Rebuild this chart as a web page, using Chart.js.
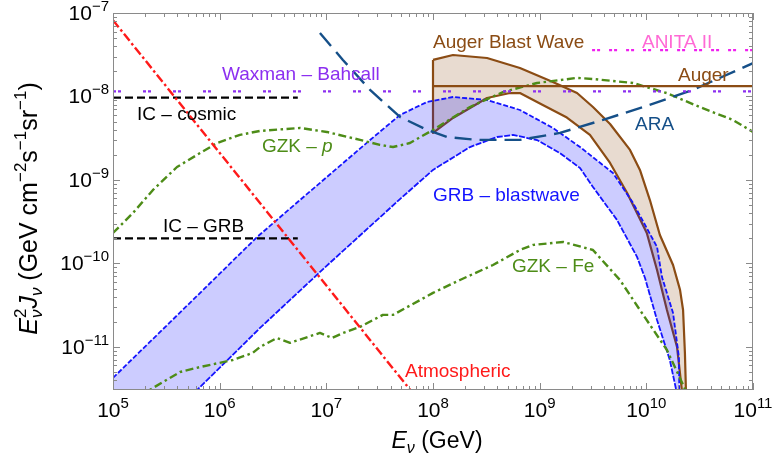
<!DOCTYPE html>
<html><head><meta charset="utf-8">
<script src="https://cdn.jsdelivr.net/npm/chart.js@4/dist/chart.umd.min.js"></script>
<style>html,body{margin:0;padding:0;background:#fff;}#wrap{width:774px;height:459px;}</style>
</head><body><div id="wrap"><canvas id="c" width="774" height="459"></canvas></div>
<script>
// ---------- data (E in GeV, flux E^2 J in GeV cm^-2 s^-1 sr^-1) ----------
const xTickExponents = [5, 6, 7, 8, 9, 10, 11];
const yTickExponents = [-7, -8, -9, -10, -11];

const atmosphericE = [1e5, 1e8];
const atmosphericJ = [8.2e-8, 1.4e-12];

const icCosmicE = [1e5, 5.4e6];
const icCosmicJ = [9.7e-9, 9.7e-9];
const icGrbE = [1e5, 5.4e6];
const icGrbJ = [2.0e-10, 2.0e-10];

const waxmanE = [1e5, 1e11];
const waxmanJ = [1.15e-8, 1.15e-8];
const anitaE = [3.1e9, 1e11];
const anitaJ = [3.6e-8, 3.6e-8];
const augerE = [1e8, 1e11];
const augerJ = [1.33e-8, 1.33e-8];

const araE = [8.71e6, 1.43e7, 2.57e7, 4.9e7, 8.79e7, 1.35e8, 2.57e8, 6.53e8, 1.55e9, 3.93e9, 9.33e9, 2.74e10, 1e11];
const araJ = [5.75e-8, 2.74e-8, 1.20e-8, 5.69e-9, 3.98e-9, 3.27e-9, 3.02e-9, 3.02e-9, 3.66e-9, 5.25e-9, 7.48e-9, 1.20e-8, 2.51e-8];

const gzkProtonE = [1e5, 1.54e5, 2.37e5, 3.98e5, 6.55e5, 9.44e5, 1.55e6, 2.37e6, 5.66e6, 1.01e7, 2.07e7, 3.18e7, 4.22e7, 6.08e7, 1e8, 2.22e8, 4.53e8, 9.44e8, 2.24e9, 3.16e9, 7.5e9, 1.55e10, 3.16e10, 6.46e10, 1e11];
const gzkProtonJ = [2.32e-10, 4.03e-10, 7.59e-10, 1.43e-9, 2.10e-9, 2.77e-9, 3.47e-9, 3.86e-9, 4.20e-9, 3.76e-9, 3.02e-9, 2.63e-9, 2.48e-9, 2.77e-9, 3.98e-9, 7.48e-9, 1.13e-8, 1.45e-8, 1.67e-8, 1.62e-8, 1.45e-8, 1.10e-8, 7.48e-9, 5.25e-9, 3.76e-9];

const gzkIronE = [1.78e5, 4.25e5, 6.55e5, 1.33e6, 2.05e6, 2.39e6, 3.44e6, 4.57e6, 8.71e6, 1.13e7, 1.43e7, 2.07e7, 3.39e7, 4.22e7, 1e8, 1.79e8, 3.65e8, 6.53e8, 8.71e8, 1.66e9, 3.16e9, 5.66e9, 8.71e9, 1.56e10, 2.5e10];
const gzkIronJ = [2.6e-12, 5.01e-12, 5.75e-12, 6.98e-12, 8.51e-12, 1.0e-11, 1.28e-11, 1.12e-11, 1.47e-11, 1.28e-11, 1.47e-11, 1.74e-11, 2.42e-11, 2.42e-11, 4.44e-11, 6.34e-11, 9.59e-11, 1.45e-10, 1.67e-10, 1.81e-10, 1.45e-10, 6.34e-11, 2.77e-11, 9.2e-12, 2.5e-12];

const grbUpperE = [1e5, 5.62e5, 2.24e6, 5.66e6, 2.57e7, 4.9e7, 8.79e7, 1.54e8, 3.21e8, 6.53e8, 1.33e9, 2.39e9, 4.87e9, 7.5e9, 1.26e10, 1.40e10, 1.78e10, 2.02e10, 2.04e10];
const grbUpperJ = [4.26e-12, 3.66e-11, 2.07e-10, 5.75e-10, 3.01e-9, 6.0e-9, 8.59e-9, 9.86e-9, 9.08e-9, 6.89e-9, 4.20e-9, 2.48e-9, 1.21e-9, 5.31e-10, 1.58e-10, 6.92e-11, 2.55e-11, 7.59e-12, 2.5e-12];
const grbLowerE = [5.25e5, 2.39e6, 4.57e6, 1e7, 4.9e7, 1e8, 2.22e8, 3.98e8, 5.62e8, 9.44e8, 1.55e9, 2.39e9, 3.16e9, 5.31e9, 8.18e9, 9.72e9, 1.26e10, 1.66e10, 1.97e10];
const grbLowerJ = [2.5e-12, 1.69e-11, 3.66e-11, 9.3e-11, 5.9e-10, 1.32e-9, 2.48e-9, 3.27e-9, 3.46e-9, 3.01e-9, 2.10e-9, 1.39e-9, 8.24e-10, 3.32e-10, 1.20e-10, 6.7e-11, 2.10e-11, 6.98e-12, 2.5e-12];

const augerBwUpperE = [1e8, 1.54e8, 3.21e8, 6.53e8, 1.33e9, 2.24e9, 3.16e9, 4.57e9, 7.03e9, 8.71e9, 1.08e10, 1.34e10, 1.78e10, 2.07e10, 2.21e10, 2.30e10, 2.36e10];
const augerBwUpperJ = [2.74e-8, 3.14e-8, 2.89e-8, 2.19e-8, 1.49e-8, 1.10e-8, 7.48e-9, 4.68e-9, 2.29e-9, 1.32e-9, 5.75e-10, 2.19e-10, 9.59e-11, 4.82e-11, 2.77e-11, 8.47e-12, 2.5e-12];
const augerBwLowerE = [1e8, 1.54e8, 3.21e8, 5.27e8, 6.53e8, 1.07e9, 1.80e9, 2.96e9, 4.57e9, 6.61e9, 1.01e10, 1.26e10, 1.56e10, 1.94e10, 2.19e10];
const augerBwLowerJ = [3.66e-9, 5.53e-9, 9.59e-9, 1.10e-8, 1.10e-8, 7.91e-9, 5.6e-9, 3.46e-9, 1.60e-9, 6.98e-10, 2.32e-10, 8.36e-11, 2.77e-11, 1.0e-11, 2.5e-12];

// ---------- helpers ----------
const pts = (E, J) => E.map((e, i) => ({x: e, y: J[i]}));
function bandShape(upE, upJ, loE, loJ, closeCorner) {
  const up = pts(upE, upJ), lo = pts(loE, loJ).reverse();
  const shape = up.concat(lo);
  if (closeCorner) shape.push({x: upE[0], y: loJ[0]});
  shape.push(up[0]);
  return shape;
}
const FONT = '"Liberation Sans", Arial, Helvetica, sans-serif';
function setFont(ctx, size, italic) { ctx.font = (italic ? 'italic ' : '') + size + 'px ' + FONT; }
function layoutRich(ctx, parts) {
  let cursor = 0, lastStart = 0; const items = [];
  for (const p of parts) {
    setFont(ctx, p.size, p.italic);
    const w = ctx.measureText(p.text).width;
    const start = p.stack ? lastStart : cursor;
    items.push(Object.assign({}, p, {x0: start, w: w}));
    if (!p.stack) lastStart = start;
    cursor = Math.max(cursor, start + w);
  }
  return {items, width: cursor};
}
function drawRich(ctx, parts, x, y, align, color) {
  const L = layoutRich(ctx, parts);
  const off = align === 'center' ? -L.width / 2 : (align === 'right' ? -L.width : 0);
  ctx.fillStyle = color; ctx.textBaseline = 'alphabetic'; ctx.textAlign = 'left';
  for (const it of L.items) { setFont(ctx, it.size, it.italic); ctx.fillText(it.text, x + off + it.x0, y + (it.dy || 0)); }
}

const C = {
  red: '#ff1a1a', black: '#000000', purple: '#8c2ff0', magenta: '#f020f0', pink: '#ff6ad5',
  brown: '#8b4c14', ara: '#154f88', green: '#4d8c17', blue: '#1414ff'
};

const frameAndText = {
  id: 'frameAndText',
  afterDraw(chart) {
    const ctx = chart.ctx, a = chart.chartArea, xs = chart.scales.x, ys = chart.scales.y;
    ctx.save();
    ctx.strokeStyle = '#8a8a8a'; ctx.lineWidth = 1; ctx.setLineDash([]);
    ctx.strokeRect(a.left + 0.5, a.top + 0.5, a.right - a.left - 1, a.bottom - a.top - 1);
    ctx.beginPath();
    for (let e = 5; e <= 11; e++) for (let m = 1; m <= 9; m++) {
      const v = m * Math.pow(10, e);
      if (v < xs.min * 0.999 || v > xs.max * 1.001) continue;
      const px = Math.round(xs.getPixelForValue(v)) + 0.5, len = m === 1 ? 7 : 4;
      ctx.moveTo(px, a.bottom); ctx.lineTo(px, a.bottom - len);
      ctx.moveTo(px, a.top); ctx.lineTo(px, a.top + len);
    }
    for (let e = -12; e <= -7; e++) for (let m = 1; m <= 9; m++) {
      const v = m * Math.pow(10, e);
      if (v < ys.min * 0.999 || v > ys.max * 1.001) continue;
      const py = Math.round(ys.getPixelForValue(v)) + 0.5, len = m === 1 ? 7 : 4;
      ctx.moveTo(a.left, py); ctx.lineTo(a.left + len, py);
      ctx.moveTo(a.right, py); ctx.lineTo(a.right - len, py);
    }
    ctx.stroke();
    for (const e of xTickExponents) {
      const px = xs.getPixelForValue(Math.pow(10, e));
      drawRich(ctx, [{text: '10', size: 21}, {text: String(e), size: 15, dy: -9}], px, a.bottom + 27, 'center', '#000');
    }
    for (const e of yTickExponents) {
      const py = ys.getPixelForValue(Math.pow(10, e));
      drawRich(ctx, [{text: '10', size: 21}, {text: '\u2212' + Math.abs(e), size: 15, dy: -9}], a.left - 4, py + 7, 'right', '#000');
    }
    drawRich(ctx, [{text: 'E', size: 23, italic: true}, {text: '\u03bd', size: 16, italic: true, dy: 5}, {text: ' (GeV)', size: 23}],
      (a.left + a.right) / 2 + 4, a.bottom + 58, 'center', '#000');
    ctx.save();
    ctx.translate(37, (a.top + a.bottom) / 2 + 7);
    ctx.rotate(-Math.PI / 2);
    drawRich(ctx, [
      {text: 'E', size: 25, italic: true}, {text: '2', size: 17, dy: -11}, {text: '\u03bd', size: 17, italic: true, dy: 5, stack: true},
      {text: 'J', size: 25, italic: true}, {text: '\u03bd', size: 17, italic: true, dy: 5},
      {text: ' (GeV cm', size: 25}, {text: '\u22122', size: 17, dy: -11}, {text: 's', size: 25}, {text: '\u22121', size: 17, dy: -11},
      {text: 'sr', size: 25}, {text: '\u22121', size: 17, dy: -11}, {text: ')', size: 25}
    ], 0, 0, 'center', '#000');
    ctx.restore();
    const S = 19;
    const lab = (parts, E, J, color) => drawRich(ctx, parts, xs.getPixelForValue(E), ys.getPixelForValue(J), 'left', color);
    lab([{text: 'Auger Blast Wave', size: S}], 1e8, 3.81e-8, C.brown);
    lab([{text: 'ANITA II', size: S}], 9.1e9, 3.81e-8, C.pink);
    lab([{text: 'Waxman \u2013 Bahcall', size: S}], 1.05e6, 1.58e-8, C.purple);
    lab([{text: 'Auger', size: S}], 1.98e10, 1.53e-8, C.brown);
    lab([{text: 'IC \u2013 cosmic', size: S}], 1.68e5, 5.24e-9, C.black);
    lab([{text: 'GZK \u2013 ', size: S}, {text: 'p', size: S, italic: true}], 2.49e6, 2.16e-9, C.green);
    lab([{text: 'ARA', size: S}], 7.83e9, 3.97e-9, C.ara);
    lab([{text: 'GRB \u2013 blastwave', size: S}], 1e8, 5.61e-10, C.blue);
    lab([{text: 'IC \u2013 GRB', size: S}], 2.94e5, 2.38e-10, C.black);
    lab([{text: 'GZK \u2013 Fe', size: S}], 5.5e8, 7.9e-11, C.green);
    lab([{text: 'Atmospheric', size: S}], 5.46e7, 4.38e-12, C.red);
    ctx.restore();
  }
};

const line = (data, color, width, dash, extra) => Object.assign({
  data, borderColor: color, borderWidth: width, borderDash: dash || [], showLine: true,
  pointRadius: 0, pointHoverRadius: 0, fill: false, tension: 0, borderCapStyle: 'butt', borderJoinStyle: 'round'
}, extra || {});

const datasets = [
  line(pts(atmosphericE, atmosphericJ), C.red, 2.4, [9, 3, 2.5, 3]),
  line(pts(icCosmicE, icCosmicJ), C.black, 2.2, [8, 4]),
  line(pts(icGrbE, icGrbJ), C.black, 2.2, [8, 4]),
  line(pts(waxmanE, waxmanJ), C.purple, 2.4, [3, 2, 3, 22]),
  line(pts(anitaE, anitaJ), C.magenta, 2.2, [3, 2, 3, 9]),
  line(pts(augerE, augerJ), C.brown, 2.2),
  line(pts(araE, araJ), C.ara, 2.4, [17, 8]),
  line(pts(gzkProtonE, gzkProtonJ), C.green, 2.4, [8, 3.5, 2.5, 3.5]),
  line(pts(gzkIronE, gzkIronJ), C.green, 2.4, [8, 3.5, 2.5, 3.5]),
  line(pts(grbUpperE, grbUpperJ), C.blue, 1.8, [5, 2]),
  line(pts(grbLowerE, grbLowerJ), C.blue, 1.8, [6, 1.5]),
  line(bandShape(grbUpperE, grbUpperJ, grbLowerE, grbLowerJ, true), 'rgba(0,0,0,0)', 0.01, [], {fill: 'shape', backgroundColor: 'rgba(0,0,255,0.2)'}),
  line(bandShape(augerBwUpperE, augerBwUpperJ, augerBwLowerE, augerBwLowerJ, false), C.brown, 2.2, [], {fill: 'shape', backgroundColor: 'rgba(140,75,20,0.2)'})
];

new Chart(document.getElementById('c'), {
  type: 'scatter',
  data: {datasets},
  options: {
    responsive: false, animation: false, devicePixelRatio: 1,
    layout: {padding: {left: 113, top: 13, right: 21, bottom: 69}},
    plugins: {legend: {display: false}, tooltip: {enabled: false}},
    events: [],
    scales: {
      x: {type: 'logarithmic', min: 1e5, max: 1e11, display: false, bounds: 'data'},
      y: {type: 'logarithmic', min: 3.05e-12, max: 1e-7, display: false, bounds: 'data'}
    }
  },
  plugins: [frameAndText]
});
</script>
</body></html>
